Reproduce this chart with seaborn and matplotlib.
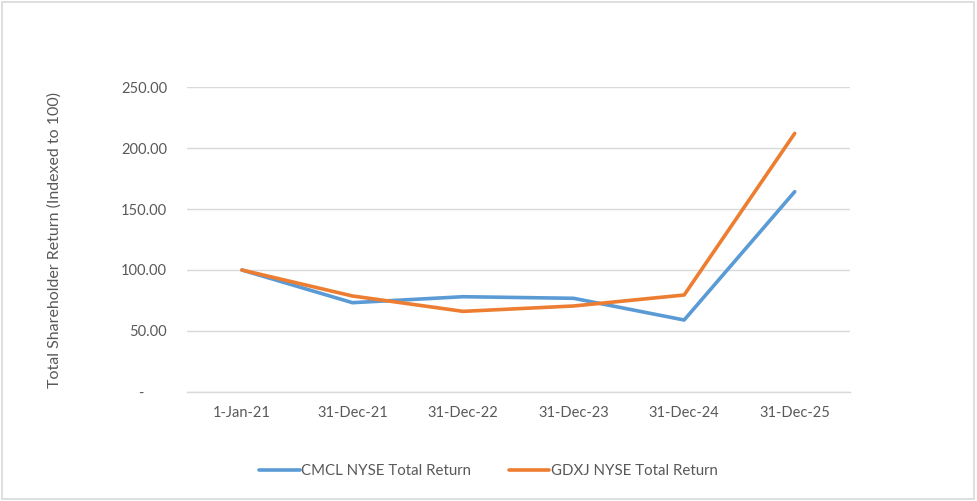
import pandas as pd
import matplotlib.pyplot as plt
import seaborn as sns
from matplotlib.patches import Rectangle

# data
dates = ['1-Jan-21', '31-Dec-21', '31-Dec-22', '31-Dec-23', '31-Dec-24', '31-Dec-25']
cmcl = [100.0, 73.2, 78.1, 76.8, 59.0, 164.2]
gdxj = [100.0, 78.7, 66.1, 70.5, 79.5, 212.0]
series_names = ['CMCL NYSE Total Return', 'GDXJ NYSE Total Return']
yticks = [0, 50, 100, 150, 200, 250]

df = pd.DataFrame({'Date': dates, series_names[0]: cmcl, series_names[1]: gdxj})
long_df = df.melt(id_vars='Date', var_name='Series', value_name='Return')

sns.set_style('white')
plt.rcParams['font.family'] = ['Lato', 'DejaVu Sans']
text_col = '#595959'

fig = plt.figure(figsize=(9.77, 5.01), dpi=100)
ax = fig.add_axes([0.191, 0.2176, 0.679, 0.6087])

sns.lineplot(data=long_df, x='Date', y='Return', hue='Series',
             palette=['#5B9BD5', '#ED7D31'], linewidth=2.6, ax=ax, legend=False,
             sort=False)

ax.set_xlim(-0.5, len(dates) - 0.5)
ax.set_ylim(0, 250)
ax.set_yticks(yticks)
# excel accounting format: zero shown as a dash, indented
ax.set_yticklabels(['-      ' if v == 0 else f'{v:.2f}' for v in yticks])
ax.grid(axis='y', color='#D9D9D9', linewidth=1)
ax.set_axisbelow(True)
for s in ['top', 'right', 'left']:
    ax.spines[s].set_visible(False)
ax.spines['bottom'].set_color('#D9D9D9')
ax.spines['bottom'].set_linewidth(1)

# tick marks between categories like Excel
ax.set_xticks(range(len(dates)))
ax.set_xticklabels(dates)
ax.set_xticks([i - 0.5 for i in range(len(dates) + 1)], minor=True)
ax.tick_params(axis='x', which='major', length=0, pad=10, labelsize=10.5, colors=text_col)
ax.tick_params(axis='x', which='minor', length=5, color='#D9D9D9', width=1, direction='out')
ax.tick_params(axis='y', length=0, pad=14, labelsize=10.5, colors=text_col)

ax.set_xlabel('')
ax.set_ylabel('Total Shareholder Return (Indexed to 100)', fontsize=11.5, color=text_col)
ax.yaxis.set_label_coords(-0.1885, 0.5)

handles = [plt.Line2D([], [], color=c, linewidth=2.6) for c in ['#5B9BD5', '#ED7D31']]
leg = fig.legend(handles, series_names, loc='center', bbox_to_anchor=(0.5, 1 - 471 / 501),
                 ncol=2, frameon=False, fontsize=10.8, handlelength=2.7,
                 handletextpad=0.1, columnspacing=2.5)
for t in leg.get_texts():
    t.set_color(text_col)

# outer border
fig.patches.append(Rectangle((0.002, 0.003), 0.995, 0.993, transform=fig.transFigure,
                             fill=False, edgecolor='#D9D9D9', linewidth=1.2))

fig.savefig('out.png', dpi=100)
